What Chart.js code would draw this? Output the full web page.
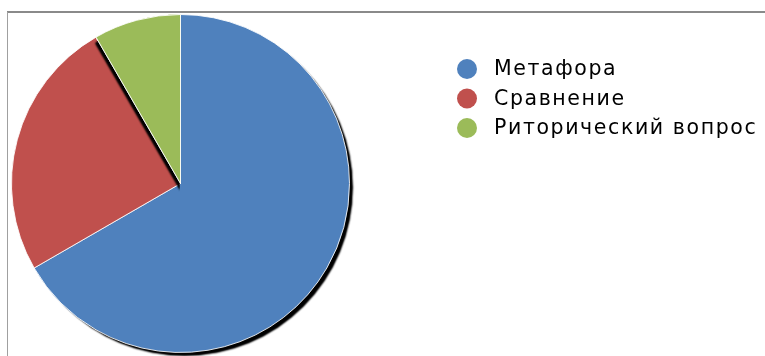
<!DOCTYPE html>
<html>
<head>
<meta charset="utf-8">
<script src="https://cdn.jsdelivr.net/npm/chart.js@4/dist/chart.umd.min.js"></script>
<style>
  html, body { margin: 0; padding: 0; background: #fff; }
  #wrap { position: relative; width: 765px; height: 356px; }
  #frameTop { position: absolute; left: 7px; top: 11px; width: 758px; height: 2px; background: #8a8a8a; }
  #frameLeft { position: absolute; left: 7px; top: 12px; width: 1px; height: 344px; background: #a0a0a0; }
  canvas { position: absolute; left: 0; top: 0; }
</style>
</head>
<body>
<div id="wrap">
  <div id="frameTop"></div>
  <div id="frameLeft"></div>
  <canvas id="c" width="765" height="356"></canvas>
</div>
<script>
// данные
const labels = ["Метафора", "Сравнение", "Риторический вопрос"];
const values = [16, 6, 2];
const colors = ["#4F81BD", "#C0504D", "#9BBB59"];

/* тень под всем кругом + тень зелёного сектора на красный */
const shadowPlugin = {
  id: "pieShadow",
  beforeDatasetsDraw(chart) {
    const arc = chart.getDatasetMeta(0).data[0];
    if (!arc) return;
    const ctx = chart.ctx;
    ctx.save();
    ctx.shadowColor = "#000";
    ctx.shadowBlur = 2;
    ctx.shadowOffsetX = 4;
    ctx.shadowOffsetY = 4;
    ctx.fillStyle = "#000";
    for (let k = 0; k < 2; k++) {
      ctx.beginPath();
      ctx.arc(arc.x, arc.y, arc.outerRadius - 1, 0, Math.PI * 2);
      ctx.fill();
    }
    ctx.restore();
  },
  afterDatasetsDraw(chart) {
    const last = chart.getDatasetMeta(0).data[2];
    if (!last) return;
    const ctx = chart.ctx;
    ctx.save();
    ctx.beginPath();
    ctx.rect(0, 0, last.x - 1, chart.height);
    ctx.clip();
    ctx.beginPath();
    ctx.arc(last.x, last.y, last.outerRadius - 1, 0, Math.PI * 2);
    ctx.clip();
    ctx.shadowColor = "#000";
    ctx.shadowBlur = 2;
    ctx.shadowOffsetX = 0;
    ctx.shadowOffsetY = 6;
    last.draw(ctx);
    last.draw(ctx);
    ctx.restore();
    last.draw(ctx);
  }
};

/* легенда справа */
const legendPlugin = {
  id: "sideLegend",
  afterDraw(chart) {
    const ctx = chart.ctx;
    ctx.save();
    ctx.font = "20.5px 'DejaVu Sans'";
    ctx.letterSpacing = "1.6px";
    ctx.textBaseline = "middle";
    labels.forEach((l, i) => {
      const y = 69 + i * 29.5;
      ctx.fillStyle = colors[i];
      ctx.beginPath();
      ctx.arc(467, y, 10, 0, Math.PI * 2);
      ctx.fill();
      ctx.fillStyle = "#000";
      ctx.fillText(l, 494, y + 1);
    });
    ctx.restore();
  }
};

new Chart(document.getElementById("c"), {
  type: "pie",
  data: {
    labels,
    datasets: [{
      data: values,
      backgroundColor: colors,
      borderColor: "rgba(255,255,255,0.85)",
      borderWidth: 1
    }]
  },
  options: {
    responsive: false,
    animation: false,
    layout: { padding: { left: 10, top: 14, bottom: 3, right: 414 } },
    plugins: { legend: { display: false }, tooltip: { enabled: false } }
  },
  plugins: [shadowPlugin, legendPlugin]
});
</script>
</body>
</html>
